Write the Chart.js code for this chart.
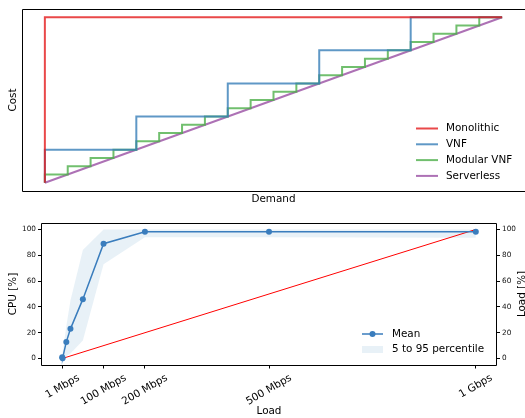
<!DOCTYPE html>
<html>
<head>
<title>Cost vs demand, CPU vs load</title>
<script src="https://cdn.jsdelivr.net/npm/chart.js@4"></script>
<style>
  body { margin: 0; background: #fff; }
  #wrap { position: relative; width: 525px; height: 418px; overflow: hidden; }
  canvas { position: absolute; left: 0; }
</style>
</head>
<body>
<div id="wrap">
  <canvas id="costChart" width="525" height="210" style="top:0"></canvas>
  <canvas id="cpuChart" width="525" height="208" style="top:210px"></canvas>
</div>
<script>
// ---- top plot: cost vs demand (normalised 0..1) ----
const monoDemand = [0, 0, 1];
const monoCost = [0, 1, 1];
const vnfDemand = [0, 0, 0.2, 0.4, 0.6, 0.8, 1];
const vnfCost = [0, 0.2, 0.4, 0.6, 0.8, 1, 1];
const modDemand = [0, 0, 0.05, 0.1, 0.15, 0.2, 0.25, 0.3, 0.35, 0.4, 0.45, 0.5,
                   0.55, 0.6, 0.65, 0.7, 0.75, 0.8, 0.85, 0.9, 0.95, 1];
const modCost = [0, 0.05, 0.1, 0.15, 0.2, 0.25, 0.3, 0.35, 0.4, 0.45, 0.5, 0.55,
                 0.6, 0.65, 0.7, 0.75, 0.8, 0.85, 0.9, 0.95, 1, 1];
const slDemand = [0, 1];
const slCost = [0, 1];

// ---- bottom plot: CPU vs load ----
const loadMbps = [0, 1, 10, 20, 50, 100, 200, 500, 1000];
const cpuMean = [1, 0.3, 12.9, 23, 46, 89, 98.2, 98.2, 98.2];
const cpuP95 = [2, 2, 25, 45, 84, 100, 100, 100, 100];
const cpuP5 = [0, 0, 2, 4, 14, 73, 94, 94, 93.5];
const lineLoadX = [0, 1000];
const lineLoadPct = [0, 100];
const xTickVals = [1, 100, 200, 500, 1000];
const xTickLabels = ['1 Mbps', '100 Mbps', '200 Mbps', '500 Mbps', '1 Gbps'];
const yTickVals = [0, 20, 40, 60, 80, 100];

const FS = 10.4;   // 10pt text
const FS_SMALL = 7.3;

Chart.defaults.font.family = '"DejaVu Sans", sans-serif';
Chart.defaults.color = '#111';

function pts(xs, ys) {
    return xs.map((x, i) => ({ x: x, y: ys[i] }));
}

// black box round the plot area, like matplotlib spines
const frame = {
    id: 'frame',
    afterDatasetsDraw(chart) {
        const a = chart.chartArea, ctx = chart.ctx;
        const l = Math.floor(a.left) + 0.5, t = Math.floor(a.top) + 0.5;
        const r = Math.floor(a.right) + 0.5, b = Math.floor(a.bottom) + 0.5;
        ctx.save();
        ctx.strokeStyle = '#000';
        ctx.lineWidth = 1;
        ctx.beginPath();
        ctx.moveTo(l, t); ctx.lineTo(r, t);
        ctx.moveTo(l, t); ctx.lineTo(l, b); ctx.lineTo(r, b);
        if (a.right < chart.width - 2) {
            ctx.moveTo(r, t); ctx.lineTo(r, b);
        }
        ctx.stroke();
        ctx.restore();
    }
};

const costLegend = {
    id: 'costLegend',
    afterDraw(chart) {
        const ctx = chart.ctx;
        ctx.save();
        ctx.font = FS + 'px "DejaVu Sans"';
        ctx.textBaseline = 'middle';
        chart.data.datasets.forEach((ds, i) => {
            const y = 128.5 + i * 15.8;
            ctx.strokeStyle = ds.borderColor;
            ctx.lineWidth = 2;
            ctx.beginPath();
            ctx.moveTo(416, y);
            ctx.lineTo(438, y);
            ctx.stroke();
            ctx.fillStyle = '#000';
            ctx.fillText(ds.label, 446, y);
        });
        ctx.restore();
    }
};

new Chart(document.getElementById('costChart'), {
    type: 'line',
    data: {
        datasets: [
            { label: 'Monolithic', data: pts(monoDemand, monoCost), borderColor: 'rgba(228,26,28,0.8)', order: 0 },
            { label: 'VNF', data: pts(vnfDemand, vnfCost), borderColor: 'rgba(55,126,184,0.8)', stepped: 'before', order: 1 },
            { label: 'Modular VNF', data: pts(modDemand, modCost), borderColor: 'rgba(77,175,74,0.8)', stepped: 'before', order: 2 },
            { label: 'Serverless', data: pts(slDemand, slCost), borderColor: 'rgba(152,78,163,0.8)', order: 3 }
        ]
    },
    options: {
        responsive: false,
        animation: false,
        devicePixelRatio: 1,
        layout: { padding: { top: 9, left: 0, right: 0, bottom: 0 } },
        elements: { line: { borderWidth: 2, tension: 0 }, point: { radius: 0 } },
        plugins: { legend: { display: false }, tooltip: { enabled: false } },
        scales: {
            x: {
                type: 'linear', min: -0.05, max: 1.05,
                grid: { display: false }, border: { display: false },
                ticks: { display: false },
                title: { display: true, text: 'Demand', color: '#000', font: { size: FS }, padding: { top: 0, bottom: 4.5 } },
                afterFit: (s) => { s.height = 19; }
            },
            y: {
                type: 'linear', min: -0.05, max: 1.05,
                grid: { display: false }, border: { display: false },
                ticks: { display: false },
                title: { display: true, text: 'Cost', color: '#000', font: { size: FS }, padding: { top: 7.5, bottom: 0 } },
                afterFit: (s) => { s.width = 22; }
            }
        }
    },
    plugins: [frame, costLegend]
});

// x tick labels rotated 30 deg and centred on the tick, plus right axis title and legend
const cpuExtras = {
    id: 'cpuExtras',
    afterDraw(chart) {
        const ctx = chart.ctx, a = chart.chartArea;
        const xs = chart.scales.x;
        const ang = Math.PI / 6;
        ctx.save();
        ctx.fillStyle = '#000';
        ctx.font = FS + 'px "DejaVu Sans"';
        ctx.textAlign = 'center';
        ctx.textBaseline = 'middle';
        const y0 = a.bottom + 7;
        xTickVals.forEach((v, i) => {
            const w = ctx.measureText(xTickLabels[i]).width;
            const h = FS * 1.16;
            const bh = w * Math.sin(ang) + h * Math.cos(ang);
            ctx.save();
            ctx.translate(xs.getPixelForValue(v), y0 + bh / 2);
            ctx.rotate(-ang);
            ctx.fillText(xTickLabels[i], 0, 0);
            ctx.restore();
        });

        // right axis title, reading bottom to top
        ctx.save();
        ctx.translate(525, (a.top + a.bottom) / 2);
        ctx.rotate(-Math.PI / 2);
        ctx.textBaseline = 'alphabetic';
        ctx.fillText('Load [%]', 0, 0);
        ctx.restore();

        // legend
        const mean = chart.data.datasets[3];
        const band = chart.data.datasets[0];
        ctx.textAlign = 'left';
        ctx.strokeStyle = mean.borderColor;
        ctx.lineWidth = 1.5;
        ctx.beginPath();
        ctx.moveTo(362, 124);
        ctx.lineTo(383, 124);
        ctx.stroke();
        ctx.fillStyle = mean.pointBackgroundColor;
        ctx.beginPath();
        ctx.arc(372.5, 124, 3, 0, Math.PI * 2);
        ctx.fill();
        ctx.fillStyle = band.backgroundColor;
        ctx.fillRect(362, 136, 21, 7);
        ctx.fillStyle = '#000';
        ctx.fillText('Mean', 392, 124);
        ctx.fillText('5 to 95 percentile', 392, 139.5);
        ctx.restore();
    }
};

new Chart(document.getElementById('cpuChart'), {
    type: 'line',
    data: {
        datasets: [
            {
                label: '95 percentile', data: pts(loadMbps, cpuP95), fill: '+1',
                backgroundColor: 'rgba(31,119,180,0.1)', borderWidth: 0, pointRadius: 0, order: 3
            },
            {
                label: '5 percentile', data: pts(loadMbps, cpuP5), fill: false,
                borderWidth: 0, pointRadius: 0, order: 3
            },
            {
                label: 'Load', data: pts(lineLoadX, lineLoadPct), yAxisID: 'y2',
                borderColor: '#ff0000', borderWidth: 1, pointRadius: 0, order: 1
            },
            {
                label: 'Mean', data: pts(loadMbps, cpuMean),
                borderColor: '#3a7dbd', borderWidth: 1.5,
                pointRadius: 3, pointBackgroundColor: '#3a7dbd', pointBorderWidth: 0, order: 0
            }
        ]
    },
    options: {
        responsive: false,
        animation: false,
        devicePixelRatio: 1,
        layout: { padding: { top: 13, left: 0, right: 0, bottom: 0 } },
        elements: { line: { tension: 0 } },
        plugins: { legend: { display: false }, tooltip: { enabled: false } },
        scales: {
            x: {
                type: 'linear', min: -50, max: 1050,
                afterBuildTicks: (s) => { s.ticks = xTickVals.map((v) => ({ value: v })); },
                grid: { display: true, drawOnChartArea: false, drawTicks: true, tickLength: 3.5, color: '#000' },
                border: { display: false },
                ticks: { display: false },
                title: { display: true, text: 'Load', color: '#000', font: { size: FS }, padding: { top: 0, bottom: 0 } },
                afterFit: (s) => { s.height = 53; }
            },
            y: {
                type: 'linear', position: 'left', min: -5, max: 105,
                afterBuildTicks: (s) => { s.ticks = yTickVals.map((v) => ({ value: v })); },
                grid: { display: true, drawOnChartArea: false, drawTicks: true, tickLength: 3.5, color: '#000' },
                border: { display: false },
                ticks: { font: { size: FS_SMALL }, padding: 2, color: '#111' },
                title: { display: true, text: 'CPU [%]', color: '#000', font: { size: FS }, padding: { top: 7.5, bottom: 0 } },
                afterFit: (s) => { s.width = 41.5; }
            },
            y2: {
                type: 'linear', position: 'right', min: -5, max: 105,
                afterBuildTicks: (s) => { s.ticks = yTickVals.map((v) => ({ value: v })); },
                grid: { display: true, drawOnChartArea: false, drawTicks: true, tickLength: 3.5, color: '#000' },
                border: { display: false },
                ticks: { font: { size: FS_SMALL }, padding: 2, color: '#111' },
                afterFit: (s) => { s.width = 28.5; }
            }
        }
    },
    plugins: [frame, cpuExtras]
});
</script>
</body>
</html>
